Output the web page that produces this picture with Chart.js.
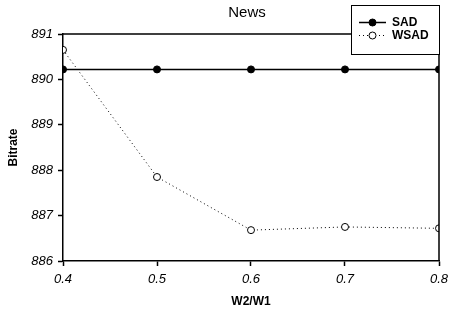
<!DOCTYPE html>
<html><head><meta charset="utf-8">
<script src="https://cdn.jsdelivr.net/npm/chart.js@4"></script>
<style>html,body{margin:0;padding:0;background:#fff}#wrap{width:465px;height:316px}</style>
</head><body><div id="wrap"><canvas id="c" width="465" height="316"></canvas></div>
<script>
const categories = [0.4, 0.5, 0.6, 0.7, 0.8];
const sadValues = [890.22, 890.22, 890.22, 890.22, 890.22];
const wsadValues = [890.65, 887.85, 886.68, 886.75, 886.72];
const yTicks = [886, 887, 888, 889, 890, 891];
const chartTitle = 'News';
const xTitle = 'W2/W1';
const yTitle = 'Bitrate';

const FONT = "'Liberation Sans', Arial, sans-serif";

const framePlugin = {
  id: 'frame',
  afterDatasetsDraw(chart) {
    const {ctx, chartArea: a} = chart;
    ctx.save();
    ctx.strokeStyle = '#000'; ctx.lineWidth = 1.5;
    ctx.beginPath();
    ctx.moveTo(a.left, a.top); ctx.lineTo(a.right, a.top); ctx.lineTo(a.right, a.bottom);
    ctx.stroke();
    // title
    ctx.fillStyle = '#000';
    ctx.font = '15px ' + FONT;
    ctx.textAlign = 'center'; ctx.textBaseline = 'middle';
    ctx.fillText(chartTitle, 247, 12.5);
    // legend
    const bx = 351, by = 5, bw = 88, bh = 49;
    ctx.fillStyle = '#fff';
    ctx.fillRect(bx, by, bw, bh);
    ctx.lineWidth = 1; ctx.strokeStyle = '#000';
    ctx.strokeRect(bx + 0.5, by + 0.5, bw, bh);
    const rows = [22.5, 35.5];
    chart.data.datasets.forEach((ds, i) => {
      const y = rows[i];
      ctx.beginPath();
      ctx.setLineDash(ds.borderDash || []);
      ctx.lineWidth = ds.borderWidth;
      ctx.moveTo(359, y); ctx.lineTo(386, y); ctx.stroke();
      ctx.setLineDash([]);
      ctx.beginPath();
      ctx.arc(372.5, y, 3.5, 0, Math.PI * 2);
      ctx.fillStyle = ds.pointBackgroundColor; ctx.fill();
      ctx.lineWidth = 1; ctx.stroke();
      ctx.fillStyle = '#000';
      ctx.font = 'bold 12px ' + FONT;
      ctx.textAlign = 'left'; ctx.textBaseline = 'middle';
      ctx.fillText(ds.label, 392, y);
    });
    ctx.restore();
  }
};

new Chart(document.getElementById('c'), {
  type: 'line',
  data: {
    datasets: [
      {label: 'SAD', data: categories.map((x, i) => ({x, y: sadValues[i]})),
       borderColor: '#000', borderWidth: 1.5, pointBackgroundColor: '#000', pointBorderColor: '#000',
       pointRadius: 3.5, pointBorderWidth: 1, tension: 0},
      {label: 'WSAD', data: categories.map((x, i) => ({x, y: wsadValues[i]})),
       borderColor: '#000', borderWidth: 1, borderDash: [1, 3], pointBackgroundColor: '#fff', pointBorderColor: '#000',
       pointRadius: 3.5, pointBorderWidth: 1, tension: 0}
    ]
  },
  options: {
    responsive: false, animation: false,
    layout: {padding: {top: 34, right: 26, left: 0, bottom: 0}},
    plugins: {legend: {display: false}, title: {display: false}, tooltip: {enabled: false}},
    scales: {
      x: {
        type: 'linear', min: 0.4, max: 0.8,
        afterBuildTicks(s) { s.ticks = categories.map(v => ({value: v})); },
        afterFit(s) { s.height = 55; },
        grid: {drawOnChartArea: false, drawTicks: true, tickLength: 5, color: '#000', tickWidth: 1.5},
        border: {color: '#000', width: 1.5},
        ticks: {color: '#000', padding: 6, font: {family: FONT, size: 13, style: 'italic'}, callback: v => v.toFixed(1), maxRotation: 0},
        title: {display: true, text: xTitle, color: '#000', font: {family: FONT, size: 12, weight: 'bold'}, padding: {top: 0, bottom: 7}}
      },
      y: {
        min: 886, max: 891,
        afterBuildTicks(s) { s.ticks = yTicks.map(v => ({value: v})); },
        afterFit(s) { s.width = 63; },
        grid: {drawOnChartArea: false, drawTicks: true, tickLength: 5, color: '#000', tickWidth: 1.5},
        border: {color: '#000', width: 1.5},
        ticks: {color: '#000', padding: 5, font: {family: FONT, size: 13, style: 'italic'}},
        title: {display: true, text: yTitle, color: '#000', font: {family: FONT, size: 12, weight: 'bold'}, padding: {top: 6, bottom: 0}}
      }
    }
  },
  plugins: [framePlugin]
});
</script></body></html>
